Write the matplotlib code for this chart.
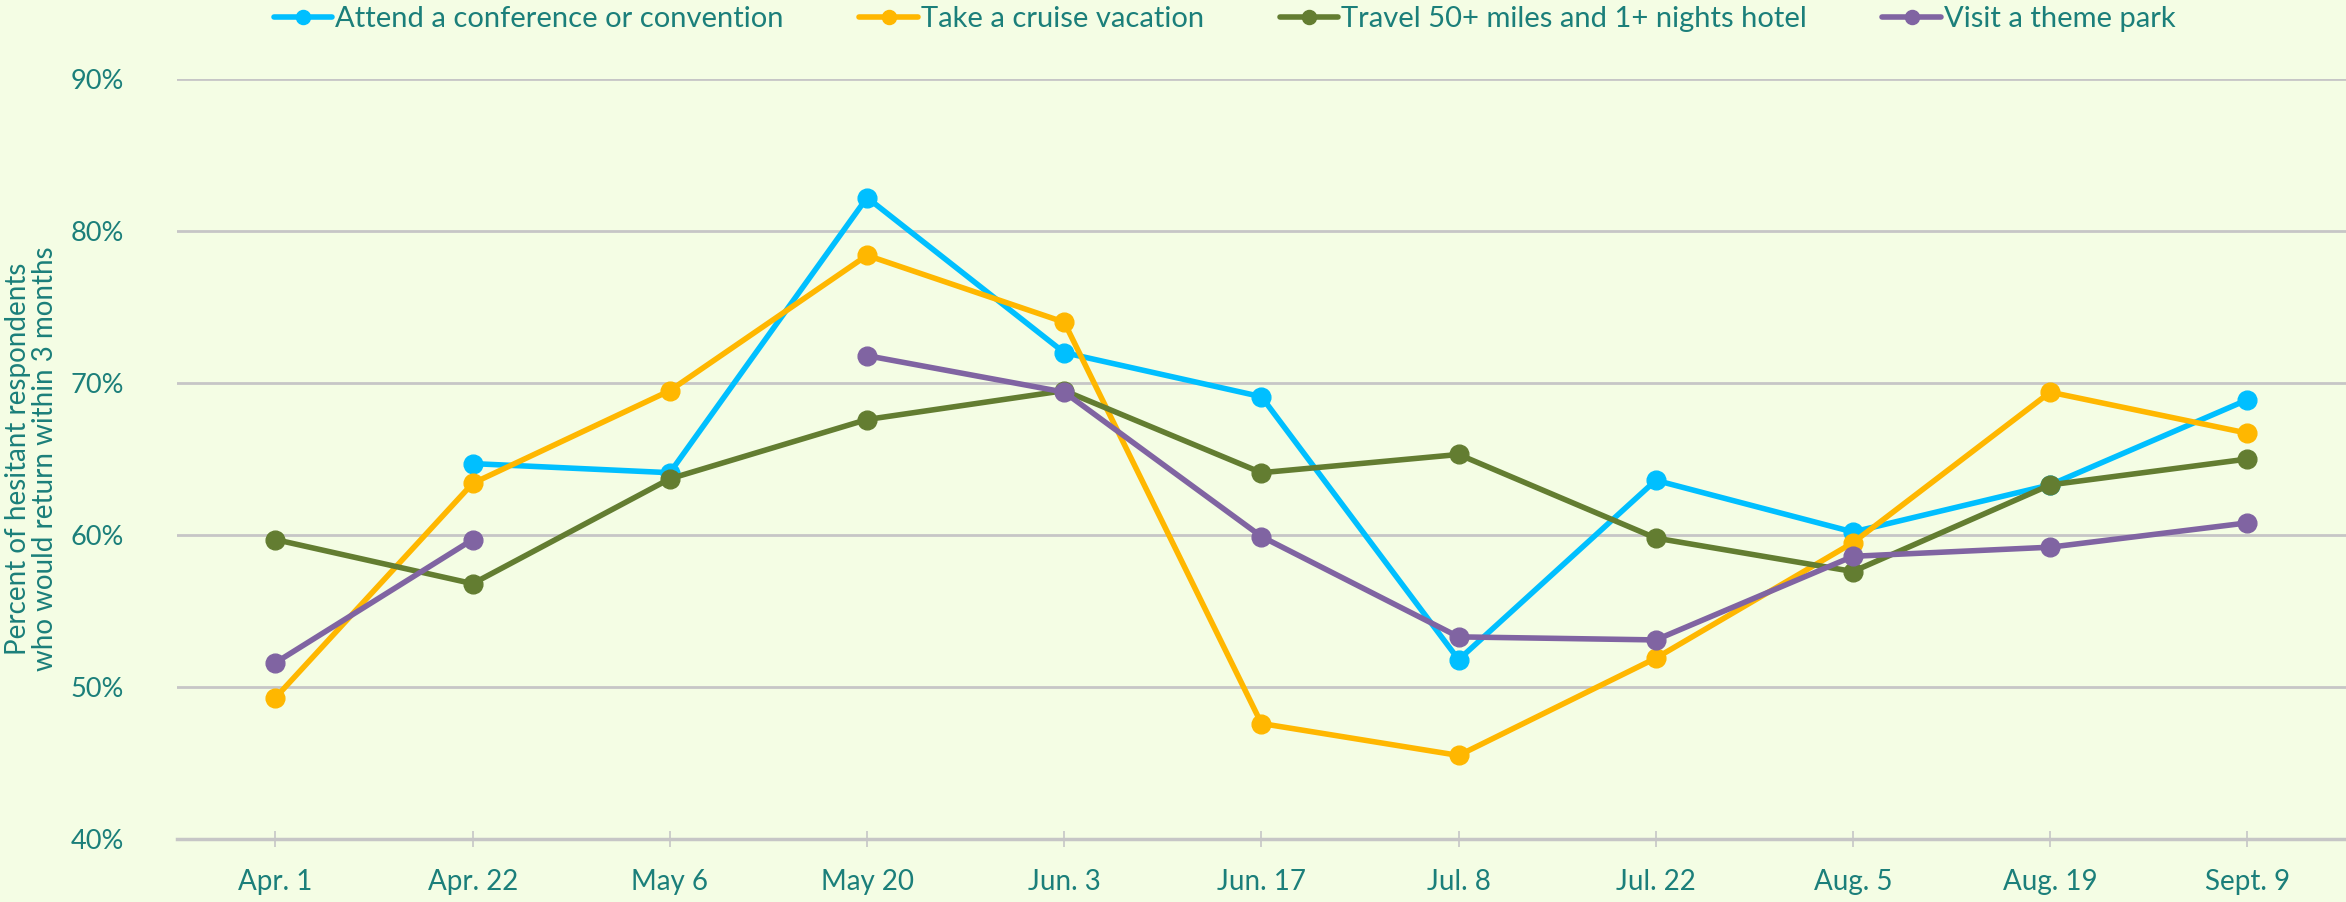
import numpy as np
import matplotlib
matplotlib.use("Agg")
import matplotlib.pyplot as plt

dates = ["Apr. 1", "Apr. 22", "May 6", "May 20", "Jun. 3", "Jun. 17",
         "Jul. 8", "Jul. 22", "Aug. 5", "Aug. 19", "Sept. 9"]

conference = [np.nan, 64.7, 64.1, 82.2, 72.0, 69.1, 51.8, 63.6, 60.2, 63.3, 68.9]
cruise = [49.3, 63.4, 69.5, 78.4, 74.0, 47.6, 45.5, 51.9, 59.5, 69.4, 66.7]
travel = [59.7, 56.8, 63.7, 67.6, 69.5, 64.1, 65.3, 59.8, 57.6, 63.3, 65.0]
theme_park = [51.6, 59.7, np.nan, 71.8, 69.4, 59.9, 53.3, 53.1, 58.6, 59.2, 60.8]

series = [
    ("Attend a conference or convention", conference, "#00BFFF"),
    ("Take a cruise vacation", cruise, "#FFB700"),
    ("Travel 50+ miles and 1+ nights hotel", travel, "#637D31"),
    ("Visit a theme park", theme_park, "#8064A2"),
]

bg = "#F4FDE4"
txt = "#1B7F7A"
grid = "#C6C6C6"

plt.rcParams['font.family'] = ['Lato', 'DejaVu Sans']

fig = plt.figure(figsize=(23.46, 9.02), dpi=100, facecolor=bg)
ax = fig.add_axes([0.0754, 0.0698, 0.9246, 0.8426], facecolor=bg)

x = np.arange(len(dates))
for name, vals, col in series:
    ax.plot(x, vals, color=col, lw=4, marker="o", ms=13.5, label=name,
            solid_capstyle="round", zorder=3)

ax.set_xlim(-0.5, len(dates) - 0.5)
ax.set_ylim(40, 90)
ax.set_yticks(np.arange(40, 91, 10))
ax.set_yticklabels([f"{v}%" for v in range(40, 91, 10)])
ax.set_xticks(x)
ax.set_xticklabels(dates)

ax.yaxis.grid(True, color=grid, lw=2.0, zorder=0)
for s in ["top", "right", "left"]:
    ax.spines[s].set_visible(False)
ax.spines["bottom"].set_color(grid)
ax.spines["bottom"].set_linewidth(2.5)
ax.tick_params(axis="y", length=0, pad=38, labelsize=19.5, labelcolor=txt)
ax.tick_params(axis="x", direction="inout", length=11, width=1.2, color=grid,
               pad=16, labelsize=20, labelcolor=txt)

ax.set_ylabel("Percent of hesitant respondents\nwho would return within 3 months",
              color=txt, fontsize=20, labelpad=9, linespacing=1.05)

fig.legend(loc="center", bbox_to_anchor=(0.522, 0.979), ncol=4, frameon=False,
           fontsize=21, labelcolor=txt, handlelength=2.0, handletextpad=0.1,
           columnspacing=2.6, markerscale=0.75)

fig.savefig("out.png", dpi=100, facecolor=bg)
